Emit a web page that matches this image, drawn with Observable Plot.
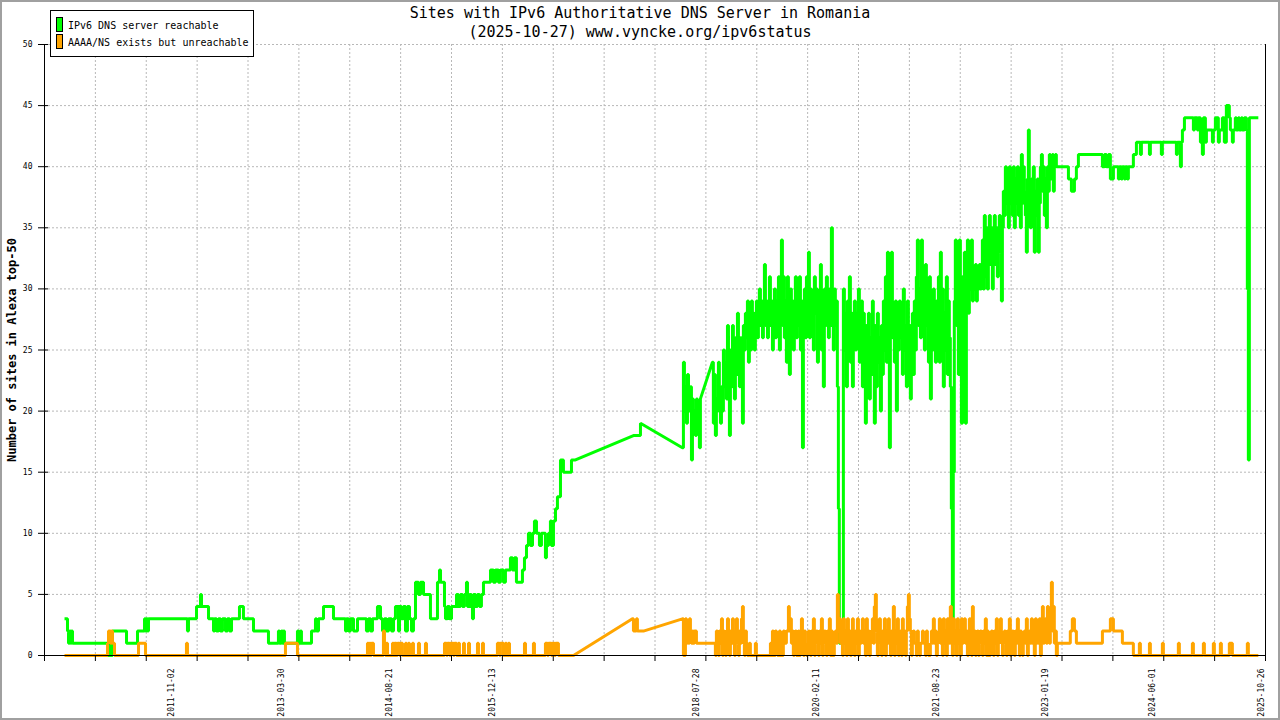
<!DOCTYPE html>
<html>
<head>
<meta charset="utf-8">
<script src="https://cdn.jsdelivr.net/npm/d3@7"></script>
<script src="https://cdn.jsdelivr.net/npm/@observablehq/plot@0.6"></script>
<style>
  body { margin: 0; background: #fff; }
  #wrap { position: relative; width: 1280px; height: 720px; background: #fff; font-family: "DejaVu Sans Mono", monospace; }
  #chart { position: absolute; left: 0; top: 0; }
  .title { position: absolute; left: 0; width: 1280px; text-align: center; font-size: 15px; line-height: 18px; color: #000; }
  #ylabel { position: absolute; left: 12px; top: 350px; transform: translate(-50%, -50%) rotate(-90deg); font-size: 12px; font-weight: bold; white-space: nowrap; }
  #legend { position: absolute; left: 50px; top: 10px; width: 202px; height: 45px; border: 1px solid #000; background: #fff; font-size: 10px; }
  .sw { position: absolute; left: 5px; width: 5px; height: 13px; border: 1px solid #000; }
  .lt { position: absolute; left: 17px; line-height: 12px; }
  #border { position: absolute; left: 0; top: 0; width: 1276px; height: 716px; border: 2px solid #a0a0a0; pointer-events: none; }
</style>
</head>
<body>
<div id="wrap">
  <div id="chart"></div>
  <div class="title" style="top:4px">Sites with IPv6 Authoritative DNS Server in Romania</div>
  <div class="title" style="top:23px">(2025-10-27) www.vyncke.org/ipv6status</div>
  <div id="ylabel">Number of sites in Alexa top-50</div>
  <div id="legend">
    <div class="sw" style="top:6px;background:#00ff00"></div><div class="lt" style="top:9px">IPv6 DNS server reachable</div>
    <div class="sw" style="top:23px;background:#ffa500"></div><div class="lt" style="top:26px">AAAA/NS exists but unreachable</div>
  </div>
  <div id="border"></div>
</div>
<script>
// x values are decimal years, third element 1 = straight segment to the next point (no data in between)
const xStart = 2010.207, xEnd = 2025.87;
const yTicks = [0, 5, 10, 15, 20, 25, 30, 35, 40, 45, 50];
const labelDates = ["2011-11-02", "2013-03-30", "2014-08-21", "2015-12-13", "2018-07-28",
  "2020-02-11", "2021-08-23", "2023-01-19", "2024-06-01", "2025-10-26"];

const greenEarly = [
  [2010.464,3],[2010.502,2],[2010.515,1],[2010.528,2],[2010.541,1],[2010.553,2],[2010.566,1],
  [2011.015,0],[2011.054,1],[2011.066,0],[2011.079,2],[2011.259,1],[2011.400,2],[2011.490,3],[2011.503,2],[2011.515,3],[2011.528,2],[2011.541,3],
  [2012.041,2],[2012.054,3],[2012.157,4],[2012.208,5],[2012.221,4],[2012.311,3],[2012.375,2],[2012.388,3],[2012.413,2],[2012.439,3],[2012.464,2],[2012.490,3],[2012.529,2],[2012.554,3],[2012.580,2],[2012.606,3],[2012.708,4],[2012.759,3],[2012.888,2],
  [2013.080,1],[2013.208,2],[2013.221,1],[2013.247,2],[2013.260,1],[2013.273,2],[2013.285,1],[2013.452,2],[2013.465,1],[2013.491,2],[2013.503,1],[2013.632,2],[2013.683,3],[2013.696,2],[2013.722,3],[2013.786,4],[2013.914,3],
  [2014.068,2],[2014.081,3],[2014.106,2],[2014.132,3],[2014.171,2],[2014.222,3],[2014.337,2],[2014.363,3],[2014.389,2],[2014.414,3],[2014.478,4],[2014.517,3],[2014.543,2],[2014.568,3],[2014.594,2],[2014.620,3],[2014.658,2],[2014.684,3],[2014.709,4],[2014.748,2],[2014.761,4],[2014.786,3],[2014.812,4],[2014.838,2],[2014.863,4],[2014.889,3],[2014.915,2],[2014.940,3],[2014.966,6],
  [2015.004,5],[2015.030,6],[2015.069,5],[2015.158,3],[2015.248,6],[2015.274,7],[2015.287,6],[2015.338,4],[2015.351,3],[2015.376,4],[2015.402,3],[2015.428,4],[2015.492,5],[2015.517,4],[2015.543,5],[2015.569,4],[2015.594,5],[2015.620,6],[2015.633,4],[2015.659,5],[2015.684,4],[2015.697,3],[2015.710,5],[2015.736,4],[2015.761,5],[2015.787,4],[2015.812,5],[2015.838,6],[2015.928,7],[2015.966,6],[2015.992,7],
  [2016.030,6],[2016.056,7],[2016.095,6],[2016.120,7],[2016.184,8],[2016.210,7],[2016.236,8],[2016.261,6],[2016.338,7],[2016.364,8],[2016.390,9],[2016.415,10],[2016.441,9],[2016.467,10],[2016.492,11],[2016.518,10],[2016.556,9],[2016.582,10],[2016.633,8],[2016.646,9],[2016.672,10],[2016.697,11],[2016.710,9],[2016.736,11],[2016.762,12],[2016.787,13],[2016.826,16],[2016.864,15],[2016.967,16],
  [2017.018,16,1],[2017.762,18],[2017.852,19,1],[2018.390,17]
];
const greenBusy = [
  [2018.403,24],[2018.416,20],[2018.429,22],[2018.442,19],[2018.455,23],[2018.468,21],[2018.480,20],[2018.493,22],[2018.506,16],[2018.519,21],[2018.531,19],[2018.544,20],[2018.557,18],[2018.570,21],[2018.583,19],[2018.596,20],[2018.608,17],[2018.621,21,1],
  [2018.775,24],[2018.787,19],[2018.800,23],[2018.813,18],[2018.826,21],[2018.839,20],[2018.852,24],[2018.864,21],[2018.878,19],[2018.891,22],[2018.904,20],[2018.916,25],[2018.929,22],[2018.942,24],[2018.955,21],[2018.968,27],[2018.981,23],[2018.993,18],
  [2019.006,25],[2019.019,22],[2019.032,27],[2019.044,24],[2019.057,21],[2019.070,26],[2019.083,23],[2019.096,28],[2019.109,25],[2019.121,22],[2019.134,26],[2019.147,24],[2019.160,19],[2019.172,27],[2019.185,25],[2019.198,28],[2019.211,26],[2019.224,29],[2019.237,24],[2019.249,27],
  [2019.262,25],[2019.275,29],[2019.288,26],[2019.300,28],[2019.313,25],[2019.326,27],[2019.339,29],[2019.352,26],[2019.365,28],[2019.377,30],[2019.391,27],[2019.404,29],[2019.417,26],[2019.429,28],[2019.442,32],[2019.455,27],[2019.468,29],[2019.481,26],[2019.494,28],[2019.506,31],
  [2019.519,27],[2019.532,29],[2019.545,25],[2019.557,28],[2019.570,30],[2019.583,26],[2019.596,29],[2019.609,27],[2019.622,31],[2019.634,25],[2019.647,30],[2019.660,34],[2019.673,27],[2019.685,31],[2019.698,26],[2019.711,29],[2019.724,24],[2019.737,31],[2019.750,28],[2019.762,23],
  [2019.775,30],[2019.788,26],[2019.801,29],[2019.813,25],[2019.826,28],[2019.839,31],[2019.852,26],[2019.865,29],[2019.878,27],[2019.890,31],[2019.904,25],[2019.917,29],[2019.930,17],[2019.942,27],[2019.955,30],[2019.968,26],[2019.981,31],[2019.994,28],
  [2020.007,33],[2020.019,26],[2020.032,30],[2020.045,27],[2020.058,29],[2020.070,25],[2020.083,31],[2020.096,28],[2020.109,30],[2020.122,24],[2020.135,29],[2020.147,27],[2020.160,32],[2020.173,25],[2020.186,28],[2020.198,22],[2020.211,30],[2020.224,27],[2020.237,31],[2020.250,28],[2020.263,26],[2020.275,30],
  [2020.288,27],[2020.301,35],[2020.314,28],[2020.326,25],[2020.339,30],[2020.352,27],[2020.365,29],[2020.378,22],[2020.391,12],[2020.403,1],[2020.417,2],[2020.430,1],[2020.443,1],[2020.455,30],[2020.468,25],[2020.481,28],[2020.494,22],[2020.507,29],[2020.520,26],[2020.532,31],
  [2020.545,24],[2020.558,28],[2020.571,22],[2020.583,27],[2020.596,29],[2020.609,25],[2020.622,28],[2020.635,26],[2020.648,30],[2020.660,24],[2020.673,27],[2020.686,29],[2020.699,22],[2020.711,28],[2020.724,26],[2020.737,19],[2020.750,27],[2020.763,24],[2020.776,28],[2020.788,21],
  [2020.801,26],[2020.814,23],[2020.827,29],[2020.839,25],[2020.852,19],[2020.865,27],[2020.878,22],[2020.891,28],[2020.904,24],[2020.916,26],[2020.930,20],[2020.943,27],[2020.956,23],[2020.968,29],[2020.981,25],[2020.994,31],
  [2021.007,24],[2021.020,33],[2021.033,27],[2021.045,17],[2021.058,29],[2021.071,33],[2021.084,26],[2021.096,28],[2021.109,24],[2021.122,29],[2021.135,20],[2021.148,27],[2021.161,25],[2021.173,29],[2021.186,26],[2021.199,28],[2021.212,23],[2021.224,30],[2021.237,25],[2021.250,27],
  [2021.263,22],[2021.276,29],[2021.289,24],[2021.301,27],[2021.314,21],[2021.327,26],[2021.340,28],[2021.352,23],[2021.365,29],[2021.378,25],[2021.391,31],[2021.404,34],[2021.417,27],[2021.430,30],[2021.443,26],[2021.456,34],[2021.469,28],[2021.481,31],[2021.494,25],[2021.507,32],
  [2021.520,27],[2021.533,29],[2021.546,24],[2021.558,31],[2021.571,21],[2021.584,28],[2021.597,25],[2021.609,30],[2021.622,27],[2021.635,24],[2021.648,29],[2021.661,26],[2021.674,31],[2021.686,24],[2021.699,33],[2021.712,27],[2021.725,30],[2021.737,22],[2021.750,28],[2021.763,25],
  [2021.776,31],[2021.789,23],[2021.802,29],[2021.814,26],[2021.827,22],[2021.840,12],[2021.853,3],[2021.865,15],[2021.878,29],[2021.891,34],[2021.904,27],[2021.917,31],[2021.930,23],[2021.942,34],[2021.956,29],[2021.969,19],[2021.982,31],[2021.994,27],
  [2022.007,33],[2022.020,19],[2022.033,30],[2022.046,34],[2022.059,28],[2022.071,32],[2022.084,30],[2022.097,34],[2022.110,29],[2022.122,31],[2022.135,30],[2022.148,32],[2022.161,29],[2022.174,31],[2022.187,30],[2022.199,32],[2022.212,30],[2022.225,31],[2022.238,34],[2022.250,30],
  [2022.263,36],[2022.276,31],[2022.289,35],[2022.302,30],[2022.315,33],[2022.327,36],[2022.340,32],[2022.353,35],[2022.366,30],[2022.378,34],[2022.391,36],[2022.404,32],[2022.417,35],[2022.430,31],[2022.443,34],[2022.455,36],[2022.469,33],[2022.482,29],[2022.495,35],[2022.507,38],
  [2022.520,36],[2022.533,40],[2022.546,37],[2022.559,39],[2022.572,35],[2022.584,40],[2022.597,37],[2022.610,39],[2022.623,36],[2022.635,40],[2022.648,35],[2022.661,39],[2022.674,37],[2022.687,40],[2022.700,36],[2022.712,39],[2022.725,35],[2022.738,41],[2022.751,37],[2022.763,40],
  [2022.776,38],[2022.789,36],[2022.802,33],[2022.815,39],[2022.828,43],[2022.840,38],[2022.853,35],[2022.866,39],[2022.879,36],[2022.891,40],[2022.904,33],[2022.917,38],[2022.930,36],[2022.943,39],[2022.956,33],[2022.968,37],[2022.982,40],[2022.995,41],
  [2023.008,38],[2023.020,40],[2023.033,36],[2023.046,39],[2023.059,35],[2023.072,40],[2023.085,38],[2023.097,41],[2023.110,39],[2023.123,40],[2023.136,41],[2023.148,38],[2023.161,40],[2023.174,41],[2023.187,40]
];
const greenLate = [
  [2023.342,39],[2023.380,38],[2023.419,39],[2023.444,40],[2023.470,41],[2023.778,40],[2023.804,41],[2023.829,40],[2023.855,41],[2023.880,39],[2023.919,40],[2023.983,39],[2023.996,40],
  [2024.021,39],[2024.034,40],[2024.060,39],[2024.073,40],[2024.098,39],[2024.111,40],[2024.175,41],[2024.214,42],[2024.265,41],[2024.278,42],[2024.381,41],[2024.393,42],[2024.534,41],[2024.547,42],[2024.727,41],[2024.739,42],[2024.778,40],[2024.791,42],[2024.804,43],[2024.830,44],[2024.945,43],[2024.958,44],[2024.996,43],
  [2025.009,44],[2025.035,42],[2025.060,41],[2025.073,44],[2025.099,42],[2025.112,43],[2025.189,42],[2025.201,43],[2025.227,44],[2025.265,42],[2025.278,43],[2025.317,44],[2025.342,42],[2025.368,45],[2025.406,44],[2025.419,43],[2025.445,42],[2025.457,43],[2025.483,44],[2025.496,43],[2025.522,44],[2025.535,43],[2025.560,44],[2025.573,43],[2025.599,44],[2025.624,43],[2025.637,30],[2025.650,16],[2025.663,44],[2025.778,44]
];

const orangeEarly = [
  [2010.464,0],[2011.015,1],[2011.028,2],[2011.054,1],[2011.066,2],[2011.079,1],[2011.105,0],[2011.413,1],[2011.503,0],[2012.028,1],[2012.041,0],[2013.298,1],[2013.452,0],
  [2014.350,1],[2014.363,0],[2014.376,1],[2014.389,0],[2014.401,1],[2014.427,0],[2014.555,2],[2014.568,1],[2014.581,0],[2014.594,1],[2014.607,0],[2014.671,1],[2014.684,0],[2014.697,1],[2014.722,0],[2014.735,1],[2014.761,0],[2014.773,1],[2014.799,0],[2014.838,1],[2014.850,0],[2014.876,1],[2014.889,0],[2014.927,1],[2014.940,0],
  [2015.004,1],[2015.017,0],[2015.094,1],[2015.107,0],[2015.338,1],[2015.364,0],[2015.376,1],[2015.402,0],[2015.415,1],[2015.453,0],[2015.466,1],[2015.492,0],[2015.517,1],[2015.530,0],[2015.582,1],[2015.594,0],[2015.646,1],[2015.659,0],[2015.761,1],[2015.774,0],[2015.825,1],[2015.838,0],
  [2016.017,1],[2016.043,0],[2016.056,1],[2016.095,0],[2016.120,1],[2016.133,0],[2016.159,1],[2016.172,0],[2016.364,1],[2016.377,0],[2016.479,1],[2016.492,0],[2016.633,1],[2016.659,0],[2016.672,1],[2016.710,0],[2016.723,1],[2016.749,0],[2016.762,1],[2016.800,0],
  [2016.993,0,1],[2017.749,3],[2017.762,2],[2017.800,3],[2017.813,2],[2017.890,2,1],[2018.390,3]
];
const orangeBusy = [
  [2018.403,0],[2018.429,3],[2018.442,1],[2018.455,2],[2018.468,1],[2018.480,3],[2018.493,2],[2018.506,1],[2018.519,2],[2018.531,1],[2018.544,2],[2018.570,1],
  [2018.813,0],[2018.826,2],[2018.839,1],[2018.852,0],[2018.864,2],[2018.878,1],[2018.891,3],[2018.904,0],[2018.916,2],[2018.929,1],[2018.942,0],[2018.955,2],[2018.968,3],[2018.981,1],[2018.993,0],
  [2019.006,2],[2019.019,1],[2019.032,3],[2019.044,1],[2019.057,0],[2019.070,2],[2019.083,3],[2019.096,1],[2019.109,0],[2019.121,2],[2019.134,1],[2019.147,3],[2019.160,4],[2019.172,1],[2019.185,0],[2019.198,2],[2019.211,1],[2019.224,0],[2019.249,1],[2019.262,0],[2019.326,1],[2019.339,0],
  [2019.519,1],[2019.532,0],[2019.545,2],[2019.557,1],[2019.570,0],[2019.583,2],[2019.596,1],[2019.609,0],[2019.622,1],[2019.634,2],[2019.647,0],[2019.660,1],[2019.673,0],[2019.685,2],[2019.698,1],[2019.724,2],[2019.750,4],[2019.762,2],
  [2019.775,3],[2019.788,1],[2019.801,2],[2019.813,0],[2019.826,1],[2019.839,2],[2019.852,0],[2019.865,1],[2019.878,2],[2019.890,0],[2019.904,1],[2019.917,3],[2019.930,1],[2019.942,0],[2019.955,2],[2019.968,1],[2019.981,0],[2019.994,1],
  [2020.007,2],[2020.019,1],[2020.032,0],[2020.045,2],[2020.058,1],[2020.070,3],[2020.083,0],[2020.096,1],[2020.109,2],[2020.122,1],[2020.135,0],[2020.147,2],[2020.160,1],[2020.173,3],[2020.186,0],[2020.198,1],[2020.211,2],[2020.224,1],[2020.237,0],[2020.250,2],[2020.263,1],[2020.275,3],
  [2020.288,0],[2020.301,2],[2020.314,1],[2020.326,0],[2020.339,1],[2020.352,2],[2020.365,1],[2020.378,5],[2020.391,2],[2020.403,3],[2020.417,1],[2020.430,2],[2020.443,0],[2020.455,3],[2020.468,1],[2020.481,2],[2020.494,0],[2020.507,3],[2020.520,1],[2020.532,2],
  [2020.545,0],[2020.558,1],[2020.571,3],[2020.583,2],[2020.596,0],[2020.609,2],[2020.622,1],[2020.635,3],[2020.648,0],[2020.660,2],[2020.673,1],[2020.686,2],[2020.699,3],[2020.711,1],[2020.724,2],[2020.737,0],[2020.750,3],[2020.763,1],[2020.776,2],[2020.788,0],
  [2020.801,1],[2020.814,2],[2020.827,3],[2020.839,1],[2020.852,4],[2020.865,5],[2020.878,2],[2020.891,0],[2020.904,1],[2020.916,3],[2020.930,1],[2020.943,0],[2020.956,2],[2020.968,1],[2020.981,3],[2020.994,0],
  [2021.007,2],[2021.020,1],[2021.033,3],[2021.045,1],[2021.058,0],[2021.071,2],[2021.084,1],[2021.096,4],[2021.109,0],[2021.122,2],[2021.135,1],[2021.148,3],[2021.161,0],[2021.173,1],[2021.186,2],[2021.199,0],[2021.212,3],[2021.224,1],[2021.237,2],[2021.250,0],
  [2021.263,2],[2021.276,4],[2021.289,5],[2021.301,3],[2021.314,2],[2021.327,0],[2021.340,1],[2021.352,2],[2021.365,1],[2021.391,0],[2021.404,2],[2021.417,1],[2021.430,0],[2021.443,1],[2021.469,2],[2021.481,1],[2021.507,0],[2021.520,2],[2021.533,1],[2021.546,0],
  [2021.571,1],[2021.584,2],[2021.597,1],[2021.609,3],[2021.622,1],[2021.635,2],[2021.648,0],[2021.661,1],[2021.674,2],[2021.686,3],[2021.699,1],[2021.712,2],[2021.725,0],[2021.737,3],[2021.750,1],[2021.763,2],[2021.776,0],[2021.789,3],[2021.802,2],[2021.814,1],
  [2021.827,4],[2021.840,2],[2021.853,0],[2021.865,3],[2021.878,1],[2021.891,2],[2021.904,0],[2021.917,3],[2021.930,1],[2021.942,2],[2021.956,0],[2021.969,3],[2021.982,1],[2021.994,2],
  [2022.007,3],[2022.020,1],[2022.033,2],[2022.046,0],[2022.059,1],[2022.071,3],[2022.084,2],[2022.097,0],[2022.110,4],[2022.122,1],[2022.135,2],[2022.148,0],[2022.161,1],[2022.174,2],[2022.187,0],[2022.199,1],[2022.212,2],[2022.225,1],[2022.238,0],[2022.250,2],
  [2022.263,1],[2022.276,3],[2022.289,0],[2022.302,2],[2022.315,1],[2022.327,0],[2022.340,1],[2022.353,2],[2022.366,1],[2022.378,0],[2022.391,2],[2022.404,1],[2022.417,3],[2022.430,0],[2022.443,1],[2022.455,2],[2022.469,3],[2022.482,1],[2022.495,0],[2022.507,1],
  [2022.520,2],[2022.533,1],[2022.546,0],[2022.559,2],[2022.572,1],[2022.584,3],[2022.597,0],[2022.610,1],[2022.623,2],[2022.635,1],[2022.648,0],[2022.661,2],[2022.674,1],[2022.687,3],[2022.700,1],[2022.712,0],[2022.725,2],[2022.738,1],[2022.751,0],[2022.763,1],
  [2022.776,2],[2022.789,1],[2022.802,3],[2022.815,0],[2022.828,1],[2022.840,2],[2022.853,1],[2022.866,3],[2022.879,1],[2022.891,2],[2022.904,0],[2022.917,3],[2022.930,1],[2022.943,2],[2022.956,1],[2022.968,3],[2022.982,0],[2022.995,2],
  [2023.008,4],[2023.020,1],[2023.033,2],[2023.046,3],[2023.059,1],[2023.072,4],[2023.085,2],[2023.097,1],[2023.110,3],[2023.123,6],[2023.136,2],[2023.148,4],[2023.161,1],[2023.174,2],[2023.187,0],[2023.200,1]
];
const orangeLate = [
  [2023.366,2],[2023.392,3],[2023.419,2],[2023.444,1],[2023.778,2],[2023.880,3],[2023.919,2],[2024.034,1],[2024.175,0],
  [2024.252,1],[2024.265,0],[2024.381,1],[2024.393,0],[2024.547,1],[2024.560,0],[2024.752,1],[2024.765,0],[2024.932,1],[2024.945,0],
  [2025.073,1],[2025.086,0],[2025.201,1],[2025.214,0],[2025.291,1],[2025.304,0],[2025.406,1],[2025.445,0],[2025.637,1],[2025.650,0],[2025.778,0]
];

const toDate = (yr) => new Date((yr - 1970) * 365.2425 * 864e5);

// daily samples hold their value until the next one (step), except across data gaps
function steps(series) {
  const out = [];
  series.forEach((p, i) => {
    out.push({date: toDate(p[0]), value: p[1]});
    const next = series[i + 1];
    if (next && !p[2]) out.push({date: toDate(next[0]), value: p[1]});
  });
  return out;
}

const green = steps([...greenEarly, ...greenBusy, ...greenLate]);
const orange = steps([...orangeEarly, ...orangeBusy, ...orangeLate]);

const x0 = toDate(xStart), x1 = toDate(xEnd);
const gridTicks = d3.range(25).map(i => toDate(xStart + i * (xEnd - xStart) / 24));
const parse = d3.utcParse("%Y-%m-%d");
const grid = {stroke: "#b8b8b8", strokeOpacity: 1, strokeDasharray: "2,2"};

const chart = Plot.plot({
  width: 1280,
  height: 720,
  marginLeft: 44,
  marginRight: 15,
  marginTop: 44,
  marginBottom: 65,
  style: {fontFamily: "DejaVu Sans Mono", fontSize: "8px", background: "transparent", color: "#000"},
  x: {type: "utc", domain: [x0, x1]},
  y: {domain: [0, 50]},
  marks: [
    Plot.gridX(gridTicks, grid),
    Plot.gridY(yTicks, grid),
    Plot.line(green, {x: "date", y: "value", stroke: "#00ff00", strokeWidth: 3, strokeLinejoin: "miter", strokeLinecap: "butt"}),
    Plot.line(orange, {x: "date", y: "value", stroke: "#ffa500", strokeWidth: 3, strokeLinejoin: "miter", strokeLinecap: "butt"}),
    Plot.ruleX([x0, x1], {stroke: "#000"}),
    Plot.ruleY([0], {stroke: "#000"}),
    Plot.axisY(yTicks, {tickSize: 10, dx: 4, tickPadding: 6, label: null}),
    Plot.axisX(gridTicks, {tickSize: 6, tickFormat: () => "", label: null}),
    Plot.axisX(labelDates.map(parse), {tickSize: 0, tickRotate: -90, tickPadding: 13, tickFormat: d3.utcFormat("%Y-%m-%d"), label: null})
  ]
});

d3.select("#chart").append(() => chart);
</script>
</body>
</html>
